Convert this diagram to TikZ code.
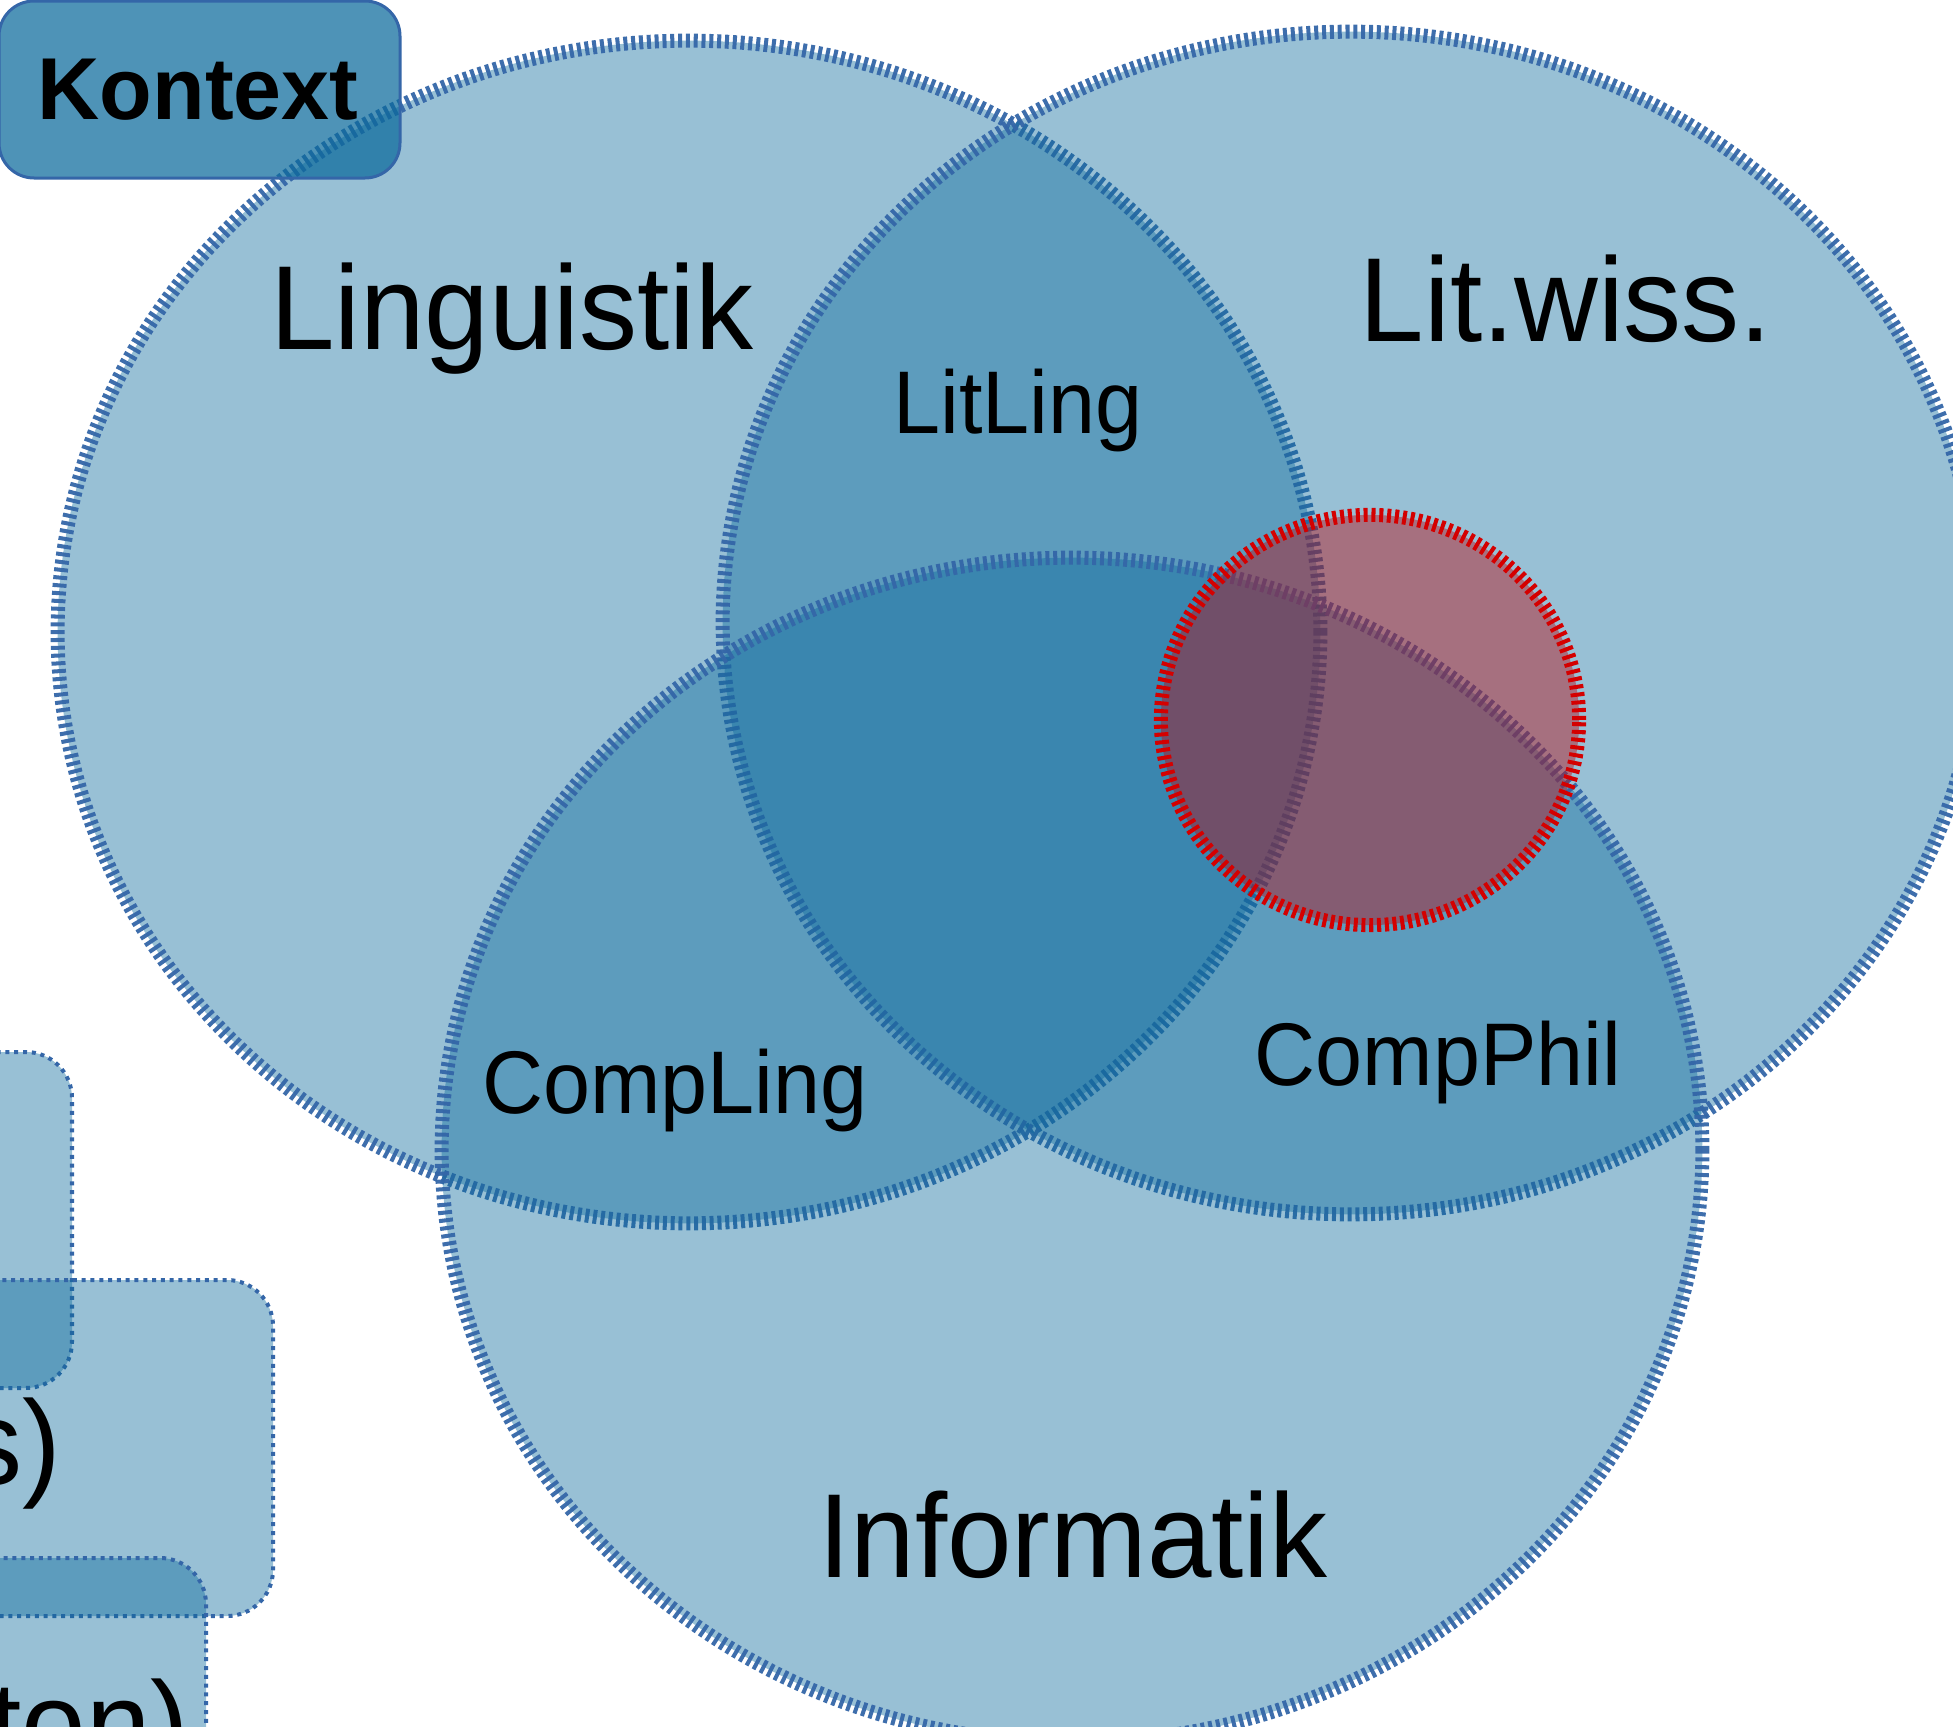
\documentclass[tikz,border=0pt]{standalone}
\usepackage{fontspec}
\setmainfont{Liberation Sans}
\newfontfamily\bigfont[FakeStretch=0.97]{Liberation Sans}
\newfontfamily\smallfont[FakeStretch=0.95]{Liberation Sans}
\newfontfamily\boldfont[FakeStretch=0.98]{Liberation Sans}
\definecolor{vfill}{RGB}{10,105,155}
\definecolor{vline}{RGB}{52,102,168}
\definecolor{rfill}{RGB}{187,8,15}
\definecolor{rline}{RGB}{212,0,0}
\tikzset{
  setfill/.style={fill=vfill, fill opacity=0.42},
  setline/.style={draw=vline, line width=0.14cm, dash pattern=on 0.04cm off 0.038cm, draw opacity=0.95},
  redset/.style={fill=rfill, fill opacity=0.43, draw=rline, line width=0.14cm, dash pattern=on 0.04cm off 0.038cm},
  boxline/.style={draw=vline, line width=0.04cm, dash pattern=on 0.04cm off 0.048cm},
  kontextbox/.style={fill=vfill, fill opacity=0.72, draw=vline, line width=0.03cm, rounded corners=0.35cm},
  biglabel/.style={font=\bigfont\fontsize{34}{40}\selectfont, anchor=base, inner sep=0pt},
  smalllabel/.style={font=\smallfont\fontsize{25.3}{30}\selectfont, anchor=base, inner sep=0pt},
}
\begin{document}
\begin{tikzpicture}[x=0.01cm,y=-0.01cm]
\useasboundingbox (0,0) rectangle (1953,1727);
\clip (0,0) rectangle (1953,1727);
% left boxes
\path[setfill, boxline, rounded corners=0.46cm] (-100,1052) rectangle (72,1388);
\path[setfill, boxline, rounded corners=0.46cm] (-100,1280) rectangle (273,1616);
\path[setfill, boxline, rounded corners=0.46cm] (-100,1558) rectangle (206,1900);
% three sets
\path[setfill, setline] (689,632) ellipse [x radius=6.31cm, y radius=5.91cm];
\path[setfill, setline] (1351,623) ellipse [x radius=6.28cm, y radius=5.91cm];
\path[setfill, setline] (1072,1150) ellipse [x radius=6.30cm, y radius=5.92cm];
% context box
\path[kontextbox] (-1,1) rectangle (400,178);
% red circle
\path[redset] (1370,720) ellipse [x radius=2.09cm, y radius=2.05cm];
% labels
\node[font=\boldfont\fontsize{25}{30}\selectfont\bfseries, anchor=base, inner sep=0pt] (kontext) at (198,120) {Kontext};
\node[biglabel] (ling) at (512,349) {Linguistik};
\node[biglabel] (litw) at (1566,341) {Lit.wiss.};
\node[biglabel] (info) at (1073,1577) {Informatik};
\node[smalllabel] (litling) at (1018,433) {LitLing};
\node[smalllabel] (compling) at (675,1113) {CompLing};
\node[smalllabel] (compphil) at (1438,1085) {CompPhil};
\node[biglabel, anchor=base east] (boxs) at (62,1484) {s)};
\node[biglabel, anchor=base east] (boxton) at (190,1765) {ton)};
\end{tikzpicture}
\end{document}
